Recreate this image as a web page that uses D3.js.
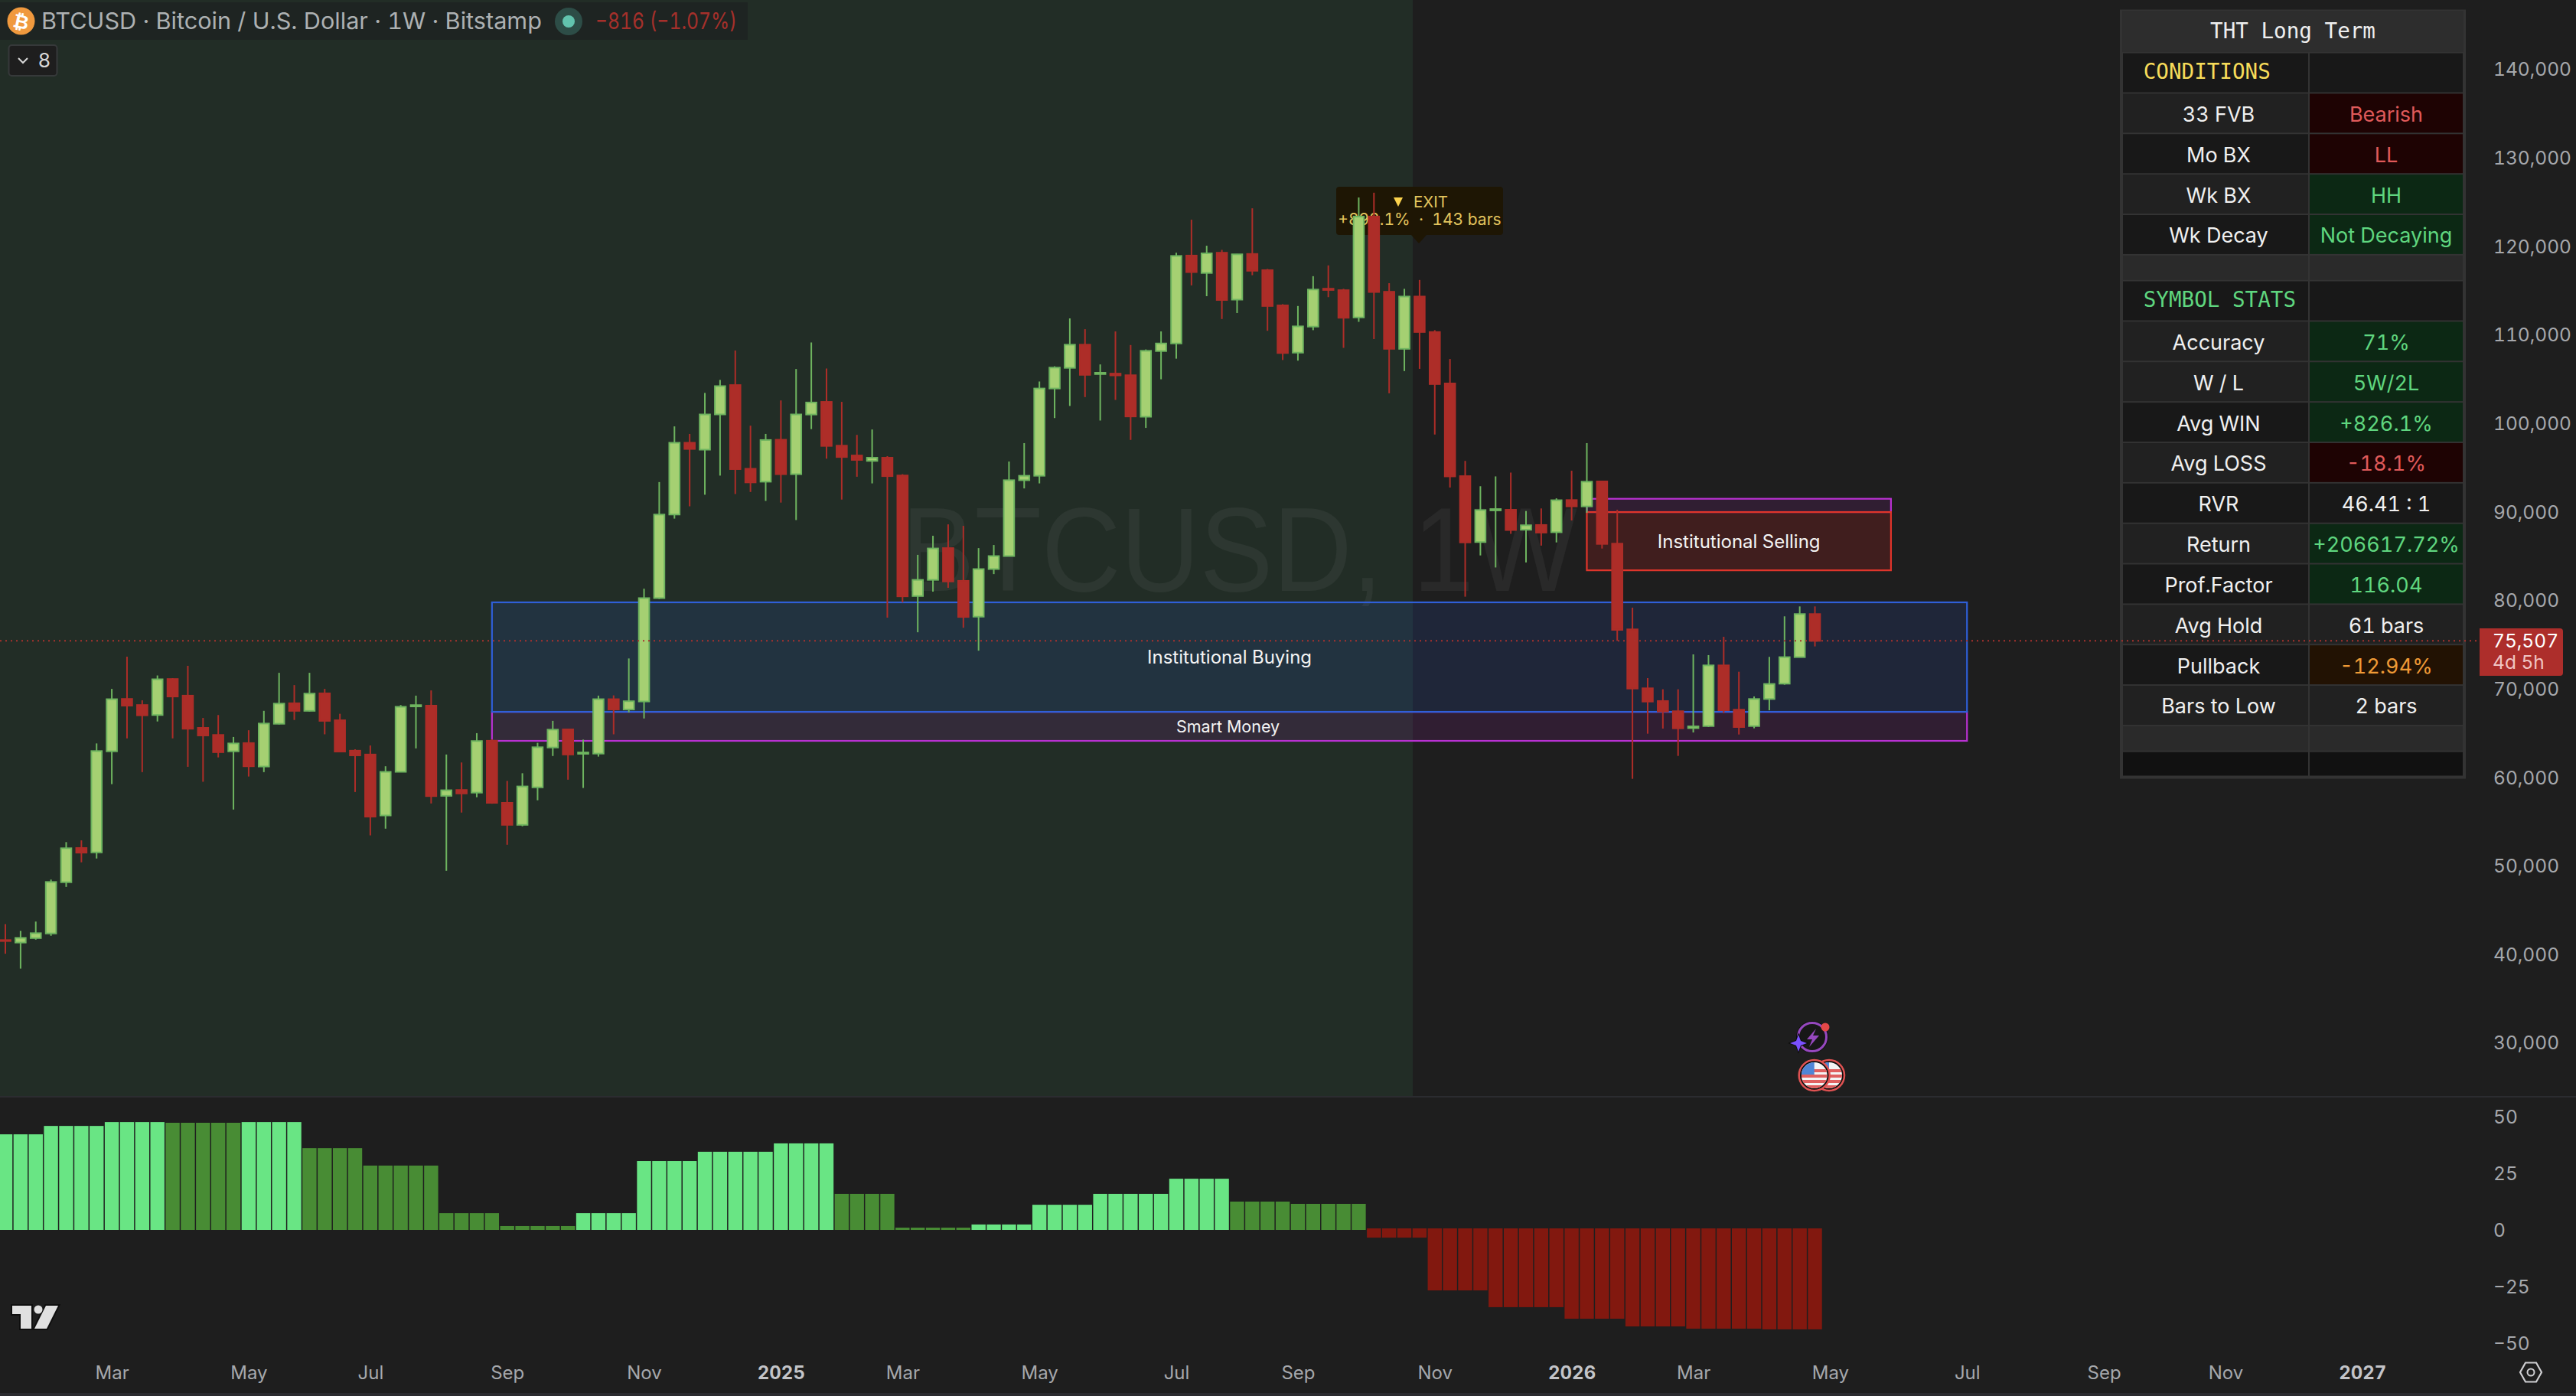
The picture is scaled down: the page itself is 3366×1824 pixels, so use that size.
<!DOCTYPE html>
<html><head><meta charset="utf-8">
<script src="https://cdn.jsdelivr.net/npm/d3@7"></script>
<style>
html,body{margin:0;padding:0;background:#1e1e1e;overflow:hidden}
svg{display:block}
text{font-family:Inter,"Noto Sans",sans-serif;font-variant-numeric:tabular-nums}
</style></head><body>
<script>
// ---------- data ----------
const opens=[41700,41420,41920,42450,48240,52110,51610,63030,68950,68260,67130,71200,69320,65680,64880,63030,63960,61310,66140,68460,67600,69580,66540,63100,62670,55780,60710,68100,68190,58000,58660,58360,64220,57210,54720,58960,63460,65510,62750,62770,68920,67760,68660,80340,89780,97890,97110,101090,104410,94950,93490,98230,94340,101080,102510,97560,96450,95840,96200,94190,80570,82400,85990,82290,78240,83620,85090,93660,94160,104020,106350,108970,105650,105700,105520,100830,108250,109110,119040,117070,119360,114060,119220,117390,113410,108070,111010,115300,115130,112050,123450,114950,108500,114410,110400,104590,94120,86670,90250,90320,88060,88600,87780,91420,90700,93520,86490,76810,70150,68710,67560,65650,65880,72740,67730,65880,68940,70670,73670,78540];
const highs=[43510,42750,43800,48540,52770,52970,63920,70080,73720,68790,71600,71300,72690,66800,67130,64650,65410,67600,71900,70510,71900,70080,67270,63260,63690,61340,68260,69320,69910,62670,61770,65080,64390,59690,60550,63990,66470,65580,64350,69320,69350,73520,81400,93450,99740,98890,103520,104990,108310,99820,98890,102670,106220,109220,106280,102510,98780,99390,96380,94340,85230,87380,88670,88500,85990,86340,95770,97850,104810,106530,111940,110720,106740,110470,108930,108430,110470,119360,123090,120150,119680,119220,124380,117530,113550,113340,116710,117930,115280,125600,126140,115920,115280,116280,110610,107350,95840,92980,94090,94520,90180,90470,91610,94730,97850,93600,90320,79260,71300,70040,70040,73980,73900,75970,72020,69230,73700,78280,79400,79400];
const lows=[40160,38480,41750,42180,47710,50490,50920,59320,64490,60680,66400,64490,61280,59590,62340,56450,60180,60680,66070,66570,67530,64950,63000,58430,53530,54290,60710,63360,57140,49530,56110,57840,57110,52470,54560,57500,62500,59820,58890,62430,64950,67430,66740,80240,89320,90710,92020,94180,92100,92330,91320,91130,89160,99430,96090,91470,94050,93300,78130,79850,76480,81070,81500,76990,74400,83050,85050,92730,93300,100680,102050,103050,100400,102730,98210,99570,105060,107390,115670,114450,111870,112550,116820,110540,107240,107170,110610,114340,108610,111550,109610,103480,105990,106240,98820,92830,80500,85160,83800,87600,84370,86270,86630,89110,89980,85940,75510,59920,65020,65600,62510,65160,65770,67350,64930,65630,67670,70550,73670,74880];
const closes=[41590,41950,42480,48270,52080,51580,63060,68920,68190,67100,71170,69220,65580,64820,62930,63920,61340,66170,68420,67600,69550,66470,63000,62570,55650,60710,68060,68250,57970,58630,58270,64190,57210,54720,59060,63490,65480,62670,62900,68920,67760,68690,80340,89780,97890,97190,101090,104290,94910,93410,98200,94340,101090,102440,97530,96280,95950,96200,94120,80540,82400,85950,82220,78210,83620,85090,93660,94160,104020,106380,108970,105560,105800,105500,100860,108280,109110,119000,117170,119290,114020,119180,117320,113340,108030,111040,115200,115150,112010,123450,114920,108500,114410,110400,104520,94090,86630,90290,90400,88030,88570,87740,91400,90700,93490,86460,76750,70120,68650,67530,65630,65850,72740,67670,65770,68940,70640,73670,78540,75507];
const momentum=[42.2,42.2,42.2,45.9,45.9,45.9,45.9,47.6,47.6,47.6,47.6,47.3,47.3,47.3,47.3,47.3,47.6,47.6,47.6,47.6,36.1,36.1,36.1,36.1,28.4,28.4,28.4,28.4,28.4,7.4,7.4,7.4,7.4,1.7,1.7,1.7,1.7,1.7,7.4,7.4,7.4,7.4,30.4,30.4,30.4,30.4,34.5,34.5,34.5,34.5,34.5,38.2,38.2,38.2,38.2,15.9,15.9,15.9,15.9,1,1,1,1,1,2.4,2.4,2.4,2.4,11.1,11.1,11.1,11.1,15.9,15.9,15.9,15.9,15.9,22.6,22.6,22.6,22.6,12.5,12.5,12.5,12.5,11.5,11.5,11.5,11.5,11.5,-3.4,-3.4,-3.4,-3.4,-26.7,-26.7,-26.7,-26.7,-34.1,-34.1,-34.1,-34.1,-34.1,-39.2,-39.2,-39.2,-39.2,-42.6,-42.6,-42.6,-42.6,-43.6,-43.6,-43.6,-43.6,-43.6,-43.9,-43.9,-43.9,-43.9];
const momentumState=["b","b","b","b","b","b","b","b","b","b","b","d","d","d","d","d","b","b","b","b","d","d","d","d","d","d","d","d","d","d","d","d","d","d","d","d","d","d","b","b","b","b","b","b","b","b","b","b","b","b","b","b","b","b","b","d","d","d","d","d","d","d","d","d","b","b","b","b","b","b","b","b","b","b","b","b","b","b","b","b","b","d","d","d","d","d","d","d","d","d"];
const firstWeek="2024-01-15";
const tickDates=["2024-03-04","2024-05-06","2024-07-01","2024-09-02","2024-11-04","2025-01-06","2025-03-03","2025-05-05","2025-07-07","2025-09-01","2025-11-03","2026-01-05","2026-03-02","2026-05-04","2026-07-06","2026-09-07","2026-11-02","2027-01-04"];
const priceTicks=[140000,130000,120000,110000,100000,90000,80000,70000,60000,50000,40000,30000];
const momentumTicks=[50,25,0,-25,-50];
const lastPrice=75507, lastCountdown="4d 5h";
const zones=[
 {name:"Institutional Buying",from:"2024-08-26",to:"2026-07-06",top:79860,bottom:67490,kind:"blue"},
 {name:"Smart Money",from:"2024-08-26",to:"2026-07-06",top:67490,bottom:64210,kind:"pink"},
 {name:"",from:"2026-01-12",to:"2026-06-01",top:91560,bottom:90060,kind:"pink"},
 {name:"Institutional Selling",from:"2026-01-12",to:"2026-06-01",top:90060,bottom:83480,kind:"red"}];
const tableLabels=["CONDITIONS","33 FVB","Mo BX","Wk BX","Wk Decay","","SYMBOL STATS","Accuracy","W / L","Avg WIN","Avg LOSS","RVR","Return","Prof.Factor","Avg Hold","Pullback","Bars to Low","",""];
const tableValues=["","Bearish","LL","HH","Not Decaying","","","71%","5W/2L","+826.1%","-18.1%","46.41 : 1","+206617.72%","116.04","61 bars","-12.94%","2 bars","",""];
const tableTones=["","red","red","green","green","","","green","green","green","red","","green","green","","orange","","",""];

// ---------- layout ----------
const W=3366,H=1824;
const svg=d3.select("body").append("svg").attr("width",W).attr("height",H);
const parse=d3.utcParse("%Y-%m-%d");
const dates=d3.range(opens.length).map(i=>d3.utcWeek.offset(parse(firstWeek),i));
const x=d3.scaleUtc().domain([dates[0],dates[119]]).range([7,7+19.87*119]);
const y=d3.scaleLinear().domain([30000,140000]).range([1363.65,91.5]);
const yM=d3.scaleLinear().domain([-50,50]).range([1755,1459]);

svg.append("rect").attr("width",W).attr("height",H).attr("fill","#1e1e1e");
svg.append("rect").attr("width",1846).attr("height",1432).attr("fill","#222d26");
svg.append("rect").attr("y",1432).attr("width",W).attr("height",2).attr("fill","#2b2c30");
svg.append("rect").attr("y",1820).attr("width",W).attr("height",4).attr("fill","#2b2b2f");

// watermark
svg.append("text").text("BTCUSD, 1W").attr("x",1178).attr("y",772)
  .attr("textLength",883).attr("lengthAdjust","spacingAndGlyphs")
  .style("font-family","'Liberation Sans',Arial,sans-serif").style("font-size","156px").attr("fill","rgba(255,255,255,0.05)");

// zones
const zoneStyle={blue:{f:"rgba(41,98,255,.12)",s:"#2f5fd8"},pink:{f:"rgba(180,30,200,.12)",s:"#b931d2"},red:{f:"rgba(240,30,30,.16)",s:"#e0352b"}};
const zoneSel=svg.append("g").selectAll("g").data([zones[1],zones[0],zones[2],zones[3]]).join("g");
zoneSel.append("rect")
  .attr("x",d=>x(parse(d.from))).attr("width",d=>x(parse(d.to))-x(parse(d.from)))
  .attr("y",d=>y(d.top)).attr("height",d=>y(d.bottom)-y(d.top))
  .attr("fill",d=>zoneStyle[d.kind].f).attr("stroke",d=>zoneStyle[d.kind].s).attr("stroke-width",2.2);

// exit label (sits under the candles)
const ex=svg.append("g");
ex.append("path").attr("d","M1750,244H1960a4,4 0 0 1 4,4V303a4,4 0 0 1 -4,4H1864L1854,318L1844,307H1750a4,4 0 0 1 -4,-4V248a4,4 0 0 1 4,-4Z").attr("fill","#1e1604");
ex.append("path").attr("d","M1821,258H1833L1827,270Z").attr("fill","#fcd34d");
ex.append("text").text("EXIT").attr("x",1847).attr("y",271).attr("fill","#e3c55e").style("font-size","20.5px");
ex.append("text").text("+893.1%  ·  143 bars").attr("xml:space","preserve").attr("x",1855).attr("y",294).attr("text-anchor","middle").attr("fill","#e3c55e").style("font-size","21px");

// candles
const upFill="#a5d072",upEdge="#6eb45f",dnFill="#ad2d28";
const candles=svg.append("g").selectAll("g").data(dates.map((d,i)=>({d,o:opens[i],h:highs[i],l:lows[i],c:closes[i]}))).join("g");
candles.append("rect").attr("x",d=>x(d.d)-1).attr("width",2)
  .attr("y",d=>y(d.h)).attr("height",d=>y(d.l)-y(d.h))
  .attr("fill",d=>d.c>=d.o?upEdge:dnFill);
candles.append("rect").attr("x",d=>x(d.d)-6.8).attr("width",13.6)
  .attr("y",d=>y(Math.max(d.o,d.c))).attr("height",d=>Math.max(1,y(Math.min(d.o,d.c))-y(Math.max(d.o,d.c))))
  .attr("fill",d=>d.c>=d.o?upFill:dnFill).attr("stroke",d=>d.c>=d.o?upEdge:dnFill).attr("stroke-width",2);

// zone captions
svg.append("g").selectAll("text").data(zones.filter(z=>z.name)).join("text")
  .text(d=>d.name)
  .attr("x",d=>(x(parse(d.from))+x(parse(d.to)))/2-(d.name==="Smart Money"?2:0))
  .attr("y",d=>(y(d.top)+y(d.bottom))/2)
  .attr("dy","0.35em").attr("text-anchor","middle").attr("fill","#f4f4f4")
  .style("font-size",d=>d.name==="Smart Money"?"21.5px":"24px");

// momentum histogram
const stateColor={b:"#69e584",d:"#488c34"};
svg.append("g").selectAll("rect").data(momentum).join("rect")
  .attr("x",(d,i)=>x(dates[i])-9.2).attr("width",18.4)
  .attr("y",d=>d>=0?yM(d):yM(0)-2)
  .attr("height",d=>d>=0?yM(0)-yM(d):yM(d)-yM(0)+2)
  .attr("fill",(d,i)=>d<0?"#82180f":stateColor[momentumState[i]]);

// table
const T=svg.append("g");
const tx0=2770,tx1=3222,colL=[2774,3016],colR=[3018,3218];
T.append("rect").attr("x",tx0).attr("y",12.5).attr("width",tx1-tx0).attr("height",1005).attr("fill","#333333");
T.append("rect").attr("x",tx0+3).attr("y",14).attr("width",tx1-tx0-6).attr("height",54).attr("fill","#2d2d2d");
T.append("text").text("THT Long Term").attr("x",2996).attr("y",40).attr("dy","0.35em").attr("text-anchor","middle")
 .attr("fill","#eeeeee").style("font-family","'DejaVu Sans Mono',monospace").style("font-size","27.6px");
let rowY=69.6;
const alt=["#181818","#212121","#181818","#212121","#181818","#2a2a2a","#181818","#212121","#212121","#181818","#212121","#181818","#212121","#181818","#212121","#181818","#212121","#2a2a2a","#111111"];
const tone={red:{bg:"#1e0303",fg:"#e05a5a"},green:{bg:"#0c2814",fg:"#5fd67f"},orange:{bg:"#221203",fg:"#ef9a36"}};
tableLabels.forEach((lab,i)=>{
  const spacer=i===5||i===17, last=i===18;
  const h=last?30.8:spacer?31.8:50.9;
  T.append("rect").attr("x",colL[0]).attr("y",rowY).attr("width",colL[1]-colL[0]).attr("height",h).attr("fill",alt[i]);
  const t=tone[tableTones[i]];
  T.append("rect").attr("x",colR[0]).attr("y",rowY).attr("width",colR[1]-colR[0]).attr("height",h).attr("fill",t?t.bg:alt[i]);
  const cy=rowY+h/2;
  if(lab==="CONDITIONS"||lab==="SYMBOL STATS"){
    T.append("text").text(lab).attr("x",2800.7).attr("y",cy-1.5).attr("dy","0.35em")
     .attr("fill",lab==="CONDITIONS"?"#f7dc5a":"#5fd67f").style("font-family","'DejaVu Sans Mono',monospace").style("font-size","27.6px");
  } else if(lab){
    T.append("text").text(lab).attr("x",2899).attr("y",cy+1.5).attr("dy","0.35em").attr("text-anchor","middle").attr("fill","#f0f0f0").style("font-size","27px");
  }
  if(tableValues[i]){
    T.append("text").text(tableValues[i]).attr("x",3118).attr("y",cy+1.5).attr("dy","0.35em").attr("text-anchor","middle").attr("fill",t?t.fg:"#f0f0f0").style("font-size","27px");
  }
  rowY+=h+(spacer?1.9:1.95);
});

// last-price dotted line and tag
svg.append("line").attr("x1",0).attr("x2",3240).attr("y1",y(lastPrice)).attr("y2",y(lastPrice))
  .attr("stroke","#a8322e").attr("stroke-width",2).attr("stroke-dasharray","2 5");

// axes
function styleAxis(g,size){
  g.select(".domain").remove();
  g.selectAll("line").remove();
  g.selectAll("text").attr("x",null).attr("y",null).attr("dy","0.34em").style("font-size",size).attr("fill","#a6a8ac");
}
const ax=svg.append("g").attr("transform","translate(3258,-1)")
  .call(d3.axisRight(y).tickValues(priceTicks).tickFormat(d3.format(",")).tickSize(0).tickPadding(0));
styleAxis(ax,"24.5px");ax.selectAll("text").attr("text-anchor","start").attr("x",0);
const axM=svg.append("g").attr("transform","translate(3258,0)")
  .call(d3.axisRight(yM).tickValues(momentumTicks).tickSize(0).tickPadding(0));
styleAxis(axM,"24.5px");axM.selectAll("text").attr("text-anchor","start").attr("x",0);
const mons=d3.utcFormat("%b");
const axX=svg.append("g").attr("transform","translate(0,1794)")
  .call(d3.axisBottom(x).tickValues(tickDates.map(parse)).tickSize(0).tickFormat(d=>d.getUTCMonth()===0?d.getUTCFullYear():mons(d)));
styleAxis(axX,"24px");
axX.selectAll("text").attr("text-anchor","middle").attr("x",0)
  .style("font-weight",d=>d.getUTCMonth()===0?700:400).attr("fill",d=>d.getUTCMonth()===0?"#c3c4c8":"#a6a8ac");

// price tag
svg.append("path").attr("d","M3240,821H3345a4,4 0 0 1 4,4V879a4,4 0 0 1 -4,4H3240Z").attr("fill","#ad2e2b");
svg.append("text").text(d3.format(",")(lastPrice)).attr("x",3257).attr("y",837).attr("dy","0.35em").attr("fill","#ffffff").style("font-size","24.5px");
svg.append("text").text(lastCountdown).attr("x",3257).attr("y",865).attr("dy","0.35em").attr("fill","#f0c4c2").style("font-size","24.5px");

// legend header
svg.append("rect").attr("x",0).attr("y",3).attr("width",977).attr("height",49).attr("fill","#1e2422");
svg.append("circle").attr("cx",27.5).attr("cy",27.5).attr("r",18).attr("fill","#f0993e");
svg.append("text").text("₿").attr("x",27.5).attr("y",28).attr("dy","0.36em").attr("text-anchor","middle").attr("fill","#fff")
  .attr("transform","rotate(12 27.5 28)").style("font-family","'DejaVu Sans',sans-serif").style("font-weight",700).style("font-size","25px");
svg.append("text").text("BTCUSD · Bitcoin / U.S. Dollar · 1W · Bitstamp").attr("x",54).attr("y",27).attr("dy","0.35em")
  .attr("fill","#adb1b2").style("font-size","30px").attr("textLength",654).attr("lengthAdjust","spacingAndGlyphs");
svg.append("circle").attr("cx",743).attr("cy",28).attr("r",18).attr("fill","#2d4d47");
svg.append("circle").attr("cx",743).attr("cy",28).attr("r",8).attr("fill","#62c3ae");
svg.append("text").text("−816 (−1.07%)").attr("x",778).attr("y",27).attr("dy","0.35em").attr("fill","#a5302b")
  .style("font-size","30px").attr("textLength",185).attr("lengthAdjust","spacingAndGlyphs");
svg.append("rect").attr("x",11.5).attr("y",59).attr("width",63).attr("height",40).attr("rx",4).attr("fill","#1e1e1e").attr("stroke","#36393a").attr("stroke-width",2);
svg.append("path").attr("d","M24,76L30,82L36,76").attr("fill","none").attr("stroke","#d8d8d8").attr("stroke-width",2);
svg.append("text").text("8").attr("x",58).attr("y",79).attr("dy","0.35em").attr("text-anchor","middle").attr("fill","#d8d8d8").style("font-size","26px");

// TradingView mark
const tv=svg.append("g");
tv.append("path").attr("d","M16,1706H41V1736H27V1717H16ZM60,1706H76L61,1736H45Z").attr("fill","#e0e0e0").attr("stroke","#0e0e0e").attr("stroke-width",4).attr("paint-order","stroke");
tv.append("circle").attr("cx",50).attr("cy",1711).attr("r",5.5).attr("fill","#e0e0e0");

// settings gear
svg.append("path").attr("d","M3300,1780.5H3314L3321,1793L3314,1805.5H3300L3293,1793Z").attr("fill","none").attr("stroke","#cfcfd2").attr("stroke-width",2.2);
svg.append("circle").attr("cx",3307).attr("cy",1793).attr("r",4.5).attr("fill","none").attr("stroke","#cfcfd2").attr("stroke-width",2);

// event icons
const ic=svg.append("g");
ic.append("circle").attr("cx",2368).attr("cy",1355).attr("r",21).attr("fill","#0e0e0e");
ic.append("circle").attr("cx",2368).attr("cy",1355).attr("r",18.5).attr("fill","#171717").attr("stroke","#9648bf").attr("stroke-width",3);
ic.append("path").attr("d","M2373,1344L2361,1358H2368L2364,1368L2377,1353H2369Z").attr("fill","#9648bf");
ic.append("path").attr("d","M2350,1352L2353,1360L2361,1363L2353,1366L2350,1374L2347,1366L2339,1363L2347,1360Z").attr("fill","#7a50ff").attr("stroke","#0e0e0e").attr("stroke-width",2).attr("paint-order","stroke");
ic.append("circle").attr("cx",2385).attr("cy",1342).attr("r",5.5).attr("fill","#e54848");
const defs=svg.append("defs");
[[2390,"f2"],[2370.7,"f1"]].forEach(([cx,id])=>{
  defs.append("clipPath").attr("id",id).append("circle").attr("cx",cx).attr("cy",1405).attr("r",17);
  const f=ic.append("g");
  f.append("circle").attr("cx",cx).attr("cy",1405).attr("r",20).attr("fill","#0e0e0e").attr("stroke","#e05252").attr("stroke-width",2.5);
  const c=f.append("g").attr("clip-path",`url(#${id})`);
  c.append("rect").attr("x",cx-17).attr("y",1388).attr("width",34).attr("height",34).attr("fill","#f4f4f4");
  [1397,1404,1411,1418].forEach(yy=>c.append("rect").attr("x",cx-17).attr("y",yy).attr("width",34).attr("height",4).attr("fill","#e06060"));
  c.append("rect").attr("x",cx-17).attr("y",1388).attr("width",17).attr("height",16).attr("fill","#4f86d6");
});
</script>
</body></html>
